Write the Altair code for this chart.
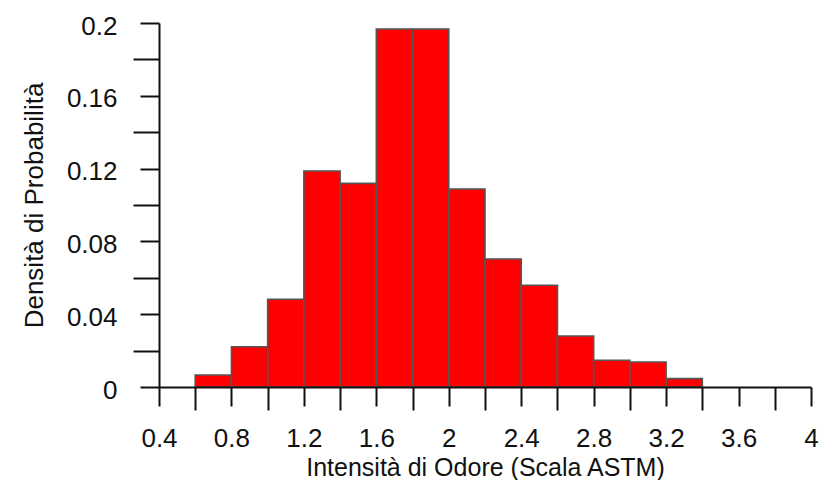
import altair as alt
import pandas as pd

# Histogram bins (Intensità di Odore, ASTM scale) and their probability densities
bin_start = [0.6, 0.8, 1.0, 1.2, 1.4, 1.6, 1.8, 2.0, 2.2, 2.4, 2.6, 2.8, 3.0, 3.2]
bin_end = [0.8, 1.0, 1.2, 1.4, 1.6, 1.8, 2.0, 2.2, 2.4, 2.6, 2.8, 3.0, 3.2, 3.4]
density = [0.0066, 0.0221, 0.0482, 0.1187, 0.1119, 0.1967, 0.1967,
           0.1088, 0.0703, 0.0559, 0.0280, 0.0147, 0.0137, 0.0046]

x_major = [0.4, 0.8, 1.2, 1.6, 2.0, 2.4, 2.8, 3.2, 3.6, 4.0]
x_minor = [0.6, 1.0, 1.4, 1.8, 2.2, 2.6, 3.0, 3.4, 3.8]
y_major = [0, 0.04, 0.08, 0.12, 0.16, 0.2]
y_minor = [0.02, 0.06, 0.10, 0.14, 0.18]

df = pd.DataFrame({"start": bin_start, "end": bin_end, "density": density})

FONT = "Liberation Sans"
INK = "#111111"
xscale = alt.Scale(domain=[0.4, 4.0], nice=False, zero=False)
yscale = alt.Scale(domain=[0, 0.2], nice=False)

main = alt.Chart(df).mark_bar(
    color="#ff0000", stroke="#555555", strokeWidth=1.6
).encode(
    x=alt.X("start:Q", scale=xscale, axis=alt.Axis(
        orient="bottom", values=x_major, format="~g", grid=False,
        tickSize=19, tickWidth=2, tickColor=INK,
        domainWidth=2, domainColor=INK,
        labelFont=FONT, labelFontSize=26, labelColor=INK,
        labelPadding=19, labelFlush=False, labelOverlap=False,
        title="Intensità di Odore (Scala ASTM)", titleFont=FONT,
        titleFontSize=25, titleFontWeight="normal", titleColor=INK,
        titleBaseline="alphabetic", titleY=88, zindex=1)),
    x2="end:Q",
    y=alt.Y("density:Q", scale=yscale, axis=alt.Axis(
        orient="left", values=y_major, format="~g", grid=False,
        tickSize=19, tickWidth=2, tickColor=INK,
        domainWidth=2, domainColor=INK,
        labelFont=FONT, labelFontSize=26, labelColor=INK,
        labelPadding=23, labelOffset=3, labelFlush=False, labelOverlap=False,
        title="Densità di Probabilità", titleFont=FONT,
        titleFontSize=26, titleFontWeight="normal", titleColor=INK,
        titleAngle=270, titleAlign="center", titleBaseline="alphabetic",
        titleX=-117, titleY=182, zindex=1)),
    y2=alt.datum(0),
)

minor = alt.Chart(df).mark_bar(opacity=0).encode(
    x=alt.X("start:Q", scale=xscale, axis=alt.Axis(
        orient="bottom", values=x_minor, grid=False, domain=False,
        labels=False, title=None, tickSize=23, tickWidth=2,
        tickColor=INK, zindex=1)),
    x2="end:Q",
    y=alt.Y("density:Q", scale=yscale, axis=alt.Axis(
        orient="left", values=y_minor, grid=False, domain=False,
        labels=False, title=None, tickSize=26, tickWidth=2,
        tickColor=INK, zindex=1)),
    y2=alt.datum(0),
)

chart = alt.layer(main, minor).resolve_axis(
    x="independent", y="independent"
).properties(
    width=652, height=364,
    autosize=alt.AutoSizeParams(type="none"),
    padding={"left": 151, "top": 15, "right": 12, "bottom": 93},
).configure_view(stroke=None)

chart.save("out.html", embed_options={"renderer": "svg", "actions": False})
